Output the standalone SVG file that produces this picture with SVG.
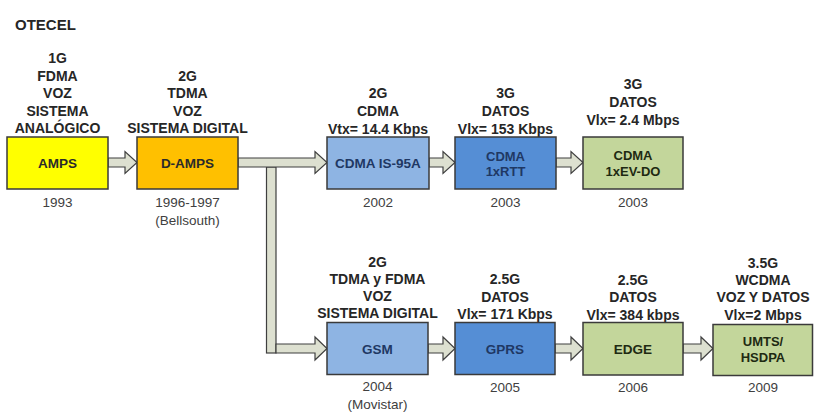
<svg xmlns="http://www.w3.org/2000/svg" width="814" height="414" viewBox="0 0 814 414">
  <style>
    .head { font-family: "Liberation Sans", Arial, sans-serif; font-weight: bold; font-size: 14px; fill: #262626; text-anchor: middle; }
    .title { font-family: "Liberation Sans", Arial, sans-serif; font-weight: bold; font-size: 15px; fill: #262626; }
    .year { font-family: "Liberation Sans", Arial, sans-serif; font-size: 13.5px; fill: #404040; text-anchor: middle; }
    .lbl { font-family: "Liberation Sans", Arial, sans-serif; font-weight: bold; font-size: 13.5px; text-anchor: middle; }
    .lbl2 { font-family: "Liberation Sans", Arial, sans-serif; font-weight: bold; font-size: 13px; text-anchor: middle; }
    .box { stroke: #3a3a3a; stroke-width: 1.5; }
    .yellow { fill: #FFFF00; }
    .orange { fill: #FFC000; }
    .lblue { fill: #8EB4E3; }
    .mblue { fill: #558ED5; }
    .green { fill: #C3D69B; }
    .tdark { fill: #2b2b2b; }
    .tnavy { fill: #1F3864; }
    .tgreen { fill: #1e2a12; }
    .arrow { fill: #DDE0D0; stroke: #3f3f3f; stroke-width: 1.2; stroke-linejoin: miter; }
  </style>
  <rect width="814" height="414" fill="#ffffff"/>

  <text class="title" x="15" y="29.5">OTECEL</text>

  <!-- block-arrow connectors -->
  <g id="connectors">
    <rect class="arrow" x="266.5" y="167" width="9.5" height="186"/>
    <path class="arrow" d="M108,158 H125 V151.5 L137,162.5 L125,173.5 V167 H108 Z"/>
    <path class="arrow" d="M238,158 H315 V151.5 L327,162.5 L315,173.5 V167 H238 Z"/>
    <path class="arrow" d="M429,158 H443 V151.5 L455,162.5 L443,173.5 V167 H429 Z"/>
    <path class="arrow" d="M556,158 H571 V151.5 L583,162.5 L571,173.5 V167 H556 Z"/>
    <path class="arrow" d="M276,344 H315 V337 L327,348.5 L315,360 V353 H276 Z"/>
    <path class="arrow" d="M428,344 H443 V337 L455,348.5 L443,360 V353 H428 Z"/>
    <path class="arrow" d="M555,344 H571 V337 L583,348.5 L571,360 V353 H555 Z"/>
    <path class="arrow" d="M683,344 H701 V337 L713,348.5 L701,360 V353 H683 Z"/>
  </g>

  <!-- top row -->
  <g id="amps">
    <text class="head" x="57.5" y="63">1G</text>
    <text class="head" x="57.5" y="81">FDMA</text>
    <text class="head" x="57.5" y="98">VOZ</text>
    <text class="head" x="57.5" y="116">SISTEMA</text>
    <text class="head" x="57.5" y="133">ANALÓGICO</text>
    <rect class="box yellow" x="7" y="137" width="101" height="52"/>
    <text class="lbl tdark" x="57.5" y="168">AMPS</text>
    <text class="year" x="57.5" y="207">1993</text>
  </g>

  <g id="d-amps">
    <text class="head" x="187.5" y="81">2G</text>
    <text class="head" x="187.5" y="98">TDMA</text>
    <text class="head" x="187.5" y="116">VOZ</text>
    <text class="head" x="187.5" y="133">SISTEMA DIGITAL</text>
    <rect class="box orange" x="137" y="137" width="101" height="52"/>
    <text class="lbl tdark" x="187.5" y="168">D-AMPS</text>
    <text class="year" x="187.5" y="207">1996-1997</text>
    <text class="year" x="187.5" y="225">(Bellsouth)</text>
  </g>

  <g id="cdma-is95a">
    <text class="head" x="378" y="98">2G</text>
    <text class="head" x="378" y="116">CDMA</text>
    <text class="head" x="378" y="134">Vtx= 14.4 Kbps</text>
    <rect class="box lblue" x="327" y="137" width="102" height="52"/>
    <text class="lbl tnavy" x="378" y="168">CDMA IS-95A</text>
    <text class="year" x="378" y="207">2002</text>
  </g>

  <g id="cdma-1xrtt">
    <text class="head" x="505.5" y="98">3G</text>
    <text class="head" x="505.5" y="116">DATOS</text>
    <text class="head" x="505.5" y="134">Vlx= 153 Kbps</text>
    <rect class="box mblue" x="455" y="137" width="101" height="52"/>
    <text class="lbl2 tnavy" x="505.5" y="160.5">CDMA</text>
    <text class="lbl2 tnavy" x="505.5" y="176">1xRTT</text>
    <text class="year" x="505.5" y="207">2003</text>
  </g>

  <g id="cdma-1xevdo">
    <text class="head" x="633" y="89">3G</text>
    <text class="head" x="633" y="107">DATOS</text>
    <text class="head" x="633" y="125">Vlx= 2.4 Mbps</text>
    <rect class="box green" x="583" y="137" width="100" height="52"/>
    <text class="lbl2 tgreen" x="633" y="160">CDMA</text>
    <text class="lbl2 tgreen" x="633" y="176">1xEV-DO</text>
    <text class="year" x="633" y="207">2003</text>
  </g>

  <!-- bottom row -->
  <g id="gsm">
    <text class="head" x="377.5" y="267">2G</text>
    <text class="head" x="377.5" y="284">TDMA y FDMA</text>
    <text class="head" x="377.5" y="301">VOZ</text>
    <text class="head" x="377.5" y="318">SISTEMA DIGITAL</text>
    <rect class="box lblue" x="327" y="322.5" width="101" height="52"/>
    <text class="lbl tnavy" x="377.5" y="353.5">GSM</text>
    <text class="year" x="377.5" y="391">2004</text>
    <text class="year" x="377.5" y="409">(Movistar)</text>
  </g>

  <g id="gprs">
    <text class="head" x="505" y="284">2.5G</text>
    <text class="head" x="505" y="302">DATOS</text>
    <text class="head" x="505" y="319">Vlx= 171 Kbps</text>
    <rect class="box mblue" x="455" y="322.5" width="100" height="52"/>
    <text class="lbl tnavy" x="505" y="353.5">GPRS</text>
    <text class="year" x="505" y="392">2005</text>
  </g>

  <g id="edge">
    <text class="head" x="633" y="285">2.5G</text>
    <text class="head" x="633" y="302">DATOS</text>
    <text class="head" x="633" y="320">Vlx= 384 kbps</text>
    <rect class="box green" x="583" y="322.5" width="100" height="52.5"/>
    <text class="lbl tgreen" x="633" y="353.5">EDGE</text>
    <text class="year" x="633" y="392">2006</text>
  </g>

  <g id="umts-hsdpa">
    <text class="head" x="763" y="268">3.5G</text>
    <text class="head" x="763" y="285">WCDMA</text>
    <text class="head" x="763" y="302">VOZ Y DATOS</text>
    <text class="head" x="763" y="320">Vlx=2 Mbps</text>
    <rect class="box green" x="713" y="324.5" width="99.5" height="51"/>
    <text class="lbl2 tgreen" x="763" y="346">UMTS/</text>
    <text class="lbl2 tgreen" x="763" y="362">HSDPA</text>
    <text class="year" x="763" y="392">2009</text>
  </g>
</svg>
